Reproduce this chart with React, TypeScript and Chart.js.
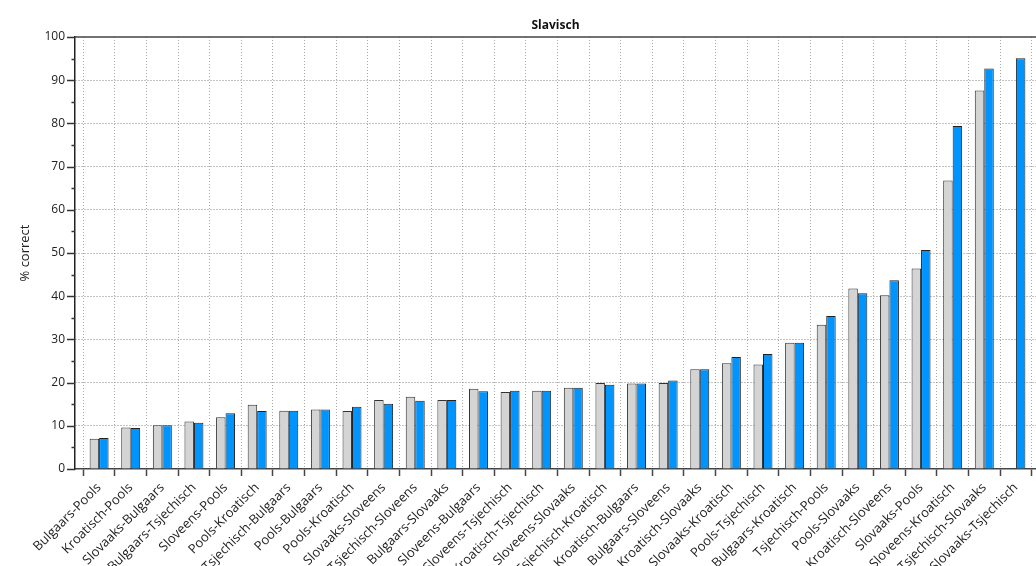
import React, { useEffect, useRef } from "react";
import { Chart, registerables } from "chart.js";

Chart.register(...registerables);

const categories: string[] = [
  "Bulgaars-Pools",
  "Kroatisch-Pools",
  "Slovaaks-Bulgaars",
  "Bulgaars-Tsjechisch",
  "Sloveens-Pools",
  "Pools-Kroatisch",
  "Tsjechisch-Bulgaars",
  "Pools-Bulgaars",
  "Pools-Kroatisch",
  "Slovaaks-Sloveens",
  "Tsjechisch-Sloveens",
  "Bulgaars-Slovaaks",
  "Sloveens-Bulgaars",
  "Sloveens-Tsjechisch",
  "Kroatisch-Tsjechisch",
  "Sloveens-Slovaaks",
  "Tsjechisch-Kroatisch",
  "Kroatisch-Bulgaars",
  "Bulgaars-Sloveens",
  "Kroatisch-Slovaaks",
  "Slovaaks-Kroatisch",
  "Pools-Tsjechisch",
  "Bulgaars-Kroatisch",
  "Tsjechisch-Pools",
  "Pools-Slovaaks",
  "Kroatisch-Sloveens",
  "Slovaaks-Pools",
  "Sloveens-Kroatisch",
  "Tsjechisch-Slovaaks",
  "Slovaaks-Tsjechisch",
];

const greySeries: (number | null)[] = [
  7.0, 9.6, 10.1, 11.0, 12.0, 14.9, 13.5, 13.8, 13.4, 16.0,
  16.7, 16.0, 18.6, 17.8, 18.1, 18.8, 19.9, 19.8, 19.9, 23.1,
  24.5, 24.2, 29.2, 33.4, 41.8, 40.2, 46.4, 66.8, 87.6, null,
];

const blueSeries: (number | null)[] = [
  7.2, 9.5, 10.1, 10.7, 12.9, 13.4, 13.5, 13.8, 14.4, 15.1,
  15.8, 16.0, 18.0, 18.1, 18.1, 18.8, 19.5, 19.8, 20.5, 23.1,
  25.9, 26.6, 29.2, 35.4, 40.7, 43.7, 50.7, 79.4, 92.7, 95.1,
];

const yTickValues: number[] = [0, 5, 10, 15, 20, 25, 30, 35, 40, 45, 50, 55, 60, 65, 70, 75, 80, 85, 90, 95, 100];

const chartTitle = "Slavisch";
const yAxisTitle = "% correct";

const FONT = "'Open Sans'";

const frameAndTicks = {
  id: "frameAndTicks",
  afterDraw(chart: any) {
    const { ctx, chartArea, scales } = chart;
    const y = scales.y;
    ctx.save();
    ctx.strokeStyle = "#444";
    ctx.lineWidth = 1.5;
    ctx.beginPath();
    ctx.moveTo(chartArea.left, chartArea.top);
    ctx.lineTo(chartArea.right, chartArea.top);
    ctx.stroke();
    ctx.strokeStyle = "#333";
    ctx.lineWidth = 1.5;
    for (const v of yTickValues) {
      const py = Math.round(y.getPixelForValue(v)) + 0.5;
      const len = v % 10 === 0 ? 8 : 3.5;
      ctx.beginPath();
      ctx.moveTo(chartArea.left - len, py);
      ctx.lineTo(chartArea.left, py);
      ctx.stroke();
    }
    ctx.restore();
  },
};

export default function App() {
  const canvasRef = useRef<HTMLCanvasElement | null>(null);

  useEffect(() => {
    if (!canvasRef.current) return;
    Chart.defaults.font.family = FONT;
    Chart.defaults.color = "#222";
    const chart = new Chart(canvasRef.current, {
      type: "bar",
      data: {
        datasets: [
          {
            label: "a",
            data: greySeries.map((v, i) => ({ x: i + 0.5, y: v })) as any,
            backgroundColor: "#d4d4d4",
            borderColor: "#333",
            borderWidth: 1,
          },
          {
            label: "b",
            data: blueSeries.map((v, i) => ({ x: i + 0.5, y: v })) as any,
            backgroundColor: "#0094ff",
            borderColor: "#222",
            borderWidth: 1,
          },
        ],
      },
      options: {
        responsive: false,
        animation: false,
        categoryPercentage: 0.6,
        barPercentage: 1.0,
        layout: { padding: 0 },
        plugins: {
          legend: { display: false },
          tooltip: { enabled: false },
          title: {
            display: true,
            text: chartTitle,
            fullSize: false,
            color: "#111",
            font: { size: 12, weight: "bold", family: FONT },
            padding: { top: 18, bottom: 4.6 },
          },
        },
        scales: {
          x: {
            type: "linear",
            offset: false,
            min: -0.2625,
            max: 30.136,
            afterBuildTicks: (scale: any) => {
              scale.ticks = categories.map((_, i) => ({ value: i + 0.5 }));
            },
            afterFit: (scale: any) => {
              scale.height = 97;
            },
            ticks: {
              autoSkip: false,
              minRotation: 45,
              maxRotation: 45,
              padding: 4,
              color: "#222",
              font: { size: 13, family: FONT },
              callback: (_v: any, i: number) => categories[i],
            },
            grid: {
              offset: true,
              color: "#a8a8a8",
              lineWidth: 1,
              drawTicks: true,
              tickLength: 7,
              tickColor: "#444",
              tickWidth: 1.5,
            },
            border: { display: true, color: "#444", width: 1.5, dash: [1, 2] },
          },
          y: {
            type: "linear",
            min: 0,
            max: 100,
            afterBuildTicks: (scale: any) => {
              scale.ticks = yTickValues.map((v) => ({ value: v }));
            },
            afterFit: (scale: any) => {
              scale.width = 75;
            },
            ticks: {
              padding: 10,
              color: "#222",
              font: { size: 12, family: FONT },
              callback: (v: any) => (Number(v) % 10 === 0 ? String(v) : ""),
            },
            grid: {
              drawTicks: false,
              lineWidth: 1,
              color: (ctx: any) =>
                ctx.tick && ctx.tick.value % 10 === 0 && ctx.tick.value !== 0 && ctx.tick.value !== 100
                  ? "#888"
                  : "rgba(0,0,0,0)",
            },
            border: { display: true, color: "#222", width: 1.5, dash: [1, 2] },
            title: {
              display: true,
              text: yAxisTitle,
              color: "#222",
              font: { size: 13, family: FONT },
              padding: { top: 17, bottom: 0 },
            },
          },
        },
      },
      plugins: [frameAndTicks],
    });
    return () => chart.destroy();
  }, []);

  return (
    <div style={{ position: "absolute", left: 0, top: 0, width: 1036, height: 566, background: "#fff" }}>
      <canvas ref={canvasRef} width={1036} height={566} />
    </div>
  );
}
